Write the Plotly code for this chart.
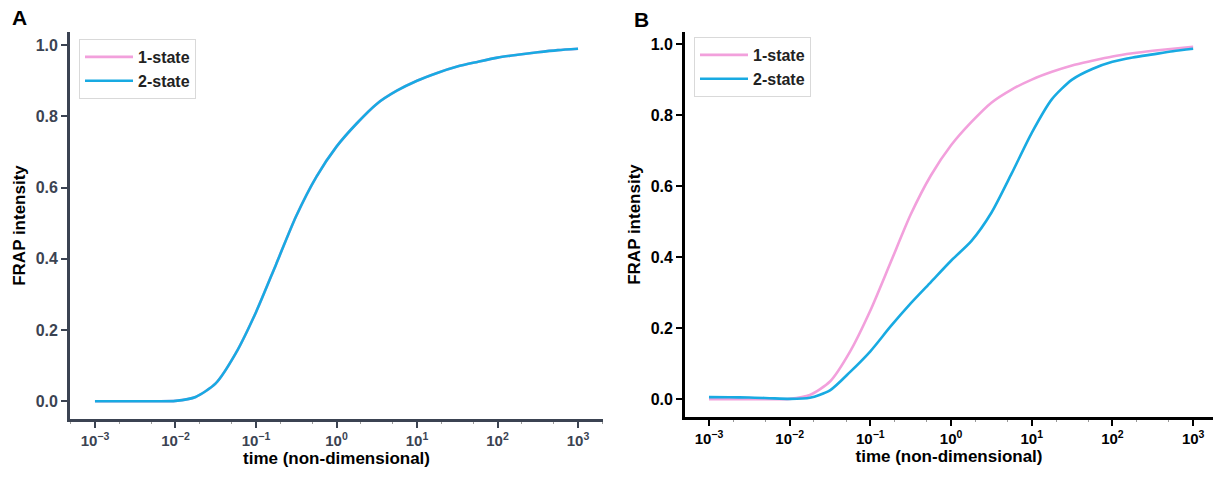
import plotly.graph_objects as go

# ---------------- data ----------------
time_points = [0.001, 0.00178, 0.00316, 0.00562, 0.01, 0.0178, 0.0316, 0.0562,
               0.1, 0.178, 0.316, 0.562, 1.0, 1.78, 3.16, 5.62, 10.0, 17.8,
               31.6, 56.2, 100.0, 178.0, 316.0, 562.0, 1000.0]

# Panel A: both models coincide
a_one_state = [0.0, 0.0, 0.0, 0.0, 0.001, 0.012, 0.05, 0.135, 0.25, 0.385, 0.52,
               0.63, 0.715, 0.78, 0.835, 0.872, 0.9, 0.922, 0.94, 0.953, 0.965,
               0.973, 0.98, 0.986, 0.99]
a_two_state = [0.0, 0.0, 0.0, 0.0, 0.001, 0.012, 0.05, 0.135, 0.25, 0.385, 0.52,
               0.63, 0.715, 0.78, 0.835, 0.872, 0.9, 0.922, 0.94, 0.953, 0.965,
               0.973, 0.98, 0.986, 0.99]

# Panel B
b_one_state = [0.0, 0.0, 0.0, 0.0, 0.001, 0.012, 0.05, 0.135, 0.25, 0.385, 0.52,
               0.63, 0.715, 0.78, 0.835, 0.872, 0.9, 0.922, 0.94, 0.953, 0.965,
               0.974, 0.981, 0.987, 0.992]
b_two_state = [0.006, 0.0055, 0.005, 0.003, 0.001, 0.004, 0.025, 0.077, 0.135,
               0.205, 0.27, 0.33, 0.39, 0.445, 0.525, 0.635, 0.75, 0.845, 0.9,
               0.93, 0.95, 0.962, 0.971, 0.98, 0.987]

x_tick_vals = [0.001, 0.01, 0.1, 1, 10, 100, 1000]
x_tick_text = ["10<sup>\u22123</sup>", "10<sup>\u22122</sup>", "10<sup>\u22121</sup>",
               "10<sup>0</sup>", "10<sup>1</sup>", "10<sup>2</sup>", "10<sup>3</sup>"]
y_tick_vals = [0.0, 0.2, 0.4, 0.6, 0.8, 1.0]
y_tick_text = ["0.0", "0.2", "0.4", "0.6", "0.8", "1.0"]

PINK = "#f2a0dc"
BLUE = "#18aae2"
FONT = "Liberation Sans, Arial, sans-serif"
A_COL = "#3b4352"
B_COL = "#000000"

W, H = 1213, 477

fig = go.Figure()

def add(x, y, name, color, xa, ya, legend):
    fig.add_trace(go.Scatter(
        x=x, y=y, name=name, mode="lines",
        line=dict(color=color, width=2.6, shape="spline", smoothing=0.7),
        xaxis=xa, yaxis=ya, legend=legend, showlegend=True))

add(time_points, a_one_state, "1-state", PINK, "x", "y", "legend")
add(time_points, a_two_state, "2-state", BLUE, "x", "y", "legend")
add(time_points, b_one_state, "1-state", PINK, "x2", "y2", "legend2")
add(time_points, b_two_state, "2-state", BLUE, "x2", "y2", "legend2")

def xaxis(dom, rng, col):
    return dict(
        type="log", domain=dom, range=rng, showgrid=False, zeroline=False,
        showline=True, linecolor=col, linewidth=2.8,
        ticks="outside", ticklen=6, tickwidth=2, tickcolor=col,
        tickvals=x_tick_vals, ticktext=x_tick_text,
        tickfont=dict(family=FONT, size=15, color=col, weight="bold"),
        title=dict(text="<b>time (non-dimensional)</b>",
                   font=dict(family=FONT, size=17, color="#000000"), standoff=4),
        minor=dict(ticks="outside", ticklen=2, tickwidth=1, tickcolor="#999999"),
    )

def yaxis(dom, rng, col, anchor):
    return dict(
        domain=dom, range=rng, anchor=anchor, showgrid=False, zeroline=False,
        showline=True, linecolor=col, linewidth=2.8,
        ticks="outside", ticklen=6, tickwidth=2, tickcolor=col,
        tickvals=y_tick_vals, ticktext=y_tick_text,
        tickfont=dict(family=FONT, size=16, color=col, weight="bold"),
        title=dict(text="<b>FRAP intensity</b>",
                   font=dict(family=FONT, size=17, color="#000000"), standoff=6),
    )

legend_style = dict(xanchor="left", yanchor="top", bgcolor="white",
                    bordercolor="#d9d9d9", borderwidth=1, itemwidth=48,
                    font=dict(family=FONT, size=16, color="#222222", weight="bold"),
                    tracegroupgap=0)

fig.update_layout(
    width=W, height=H, margin=dict(l=0, r=0, t=0, b=0),
    paper_bgcolor="white", plot_bgcolor="white",
    xaxis=dict(**xaxis([70 / W, 603 / W], [-3.31, 3.31], A_COL), anchor="y"),
    yaxis=yaxis([(H - 419) / H, (H - 32) / H], [-0.05, 1.037], A_COL, "x"),
    xaxis2=dict(**xaxis([685 / W, 1.0], [-3.297, 3.246], B_COL), anchor="y2"),
    yaxis2=yaxis([(H - 417) / H, (H - 32) / H], [-0.05, 1.034], B_COL, "x2"),
    legend=dict(x=79 / W, y=(H - 39) / H, **legend_style),
    legend2=dict(x=694 / W, y=(H - 37) / H, **legend_style),
    annotations=[
        dict(text="<b>A</b>", x=19 / W, y=(H - 18) / H, xref="paper", yref="paper",
             showarrow=False, font=dict(family=FONT, size=21, color="black"),
             xanchor="center", yanchor="middle"),
        dict(text="<b>B</b>", x=641 / W, y=(H - 20) / H, xref="paper", yref="paper",
             showarrow=False, font=dict(family=FONT, size=21, color="black"),
             xanchor="center", yanchor="middle"),
    ],
)

fig.write_html("out.html")
